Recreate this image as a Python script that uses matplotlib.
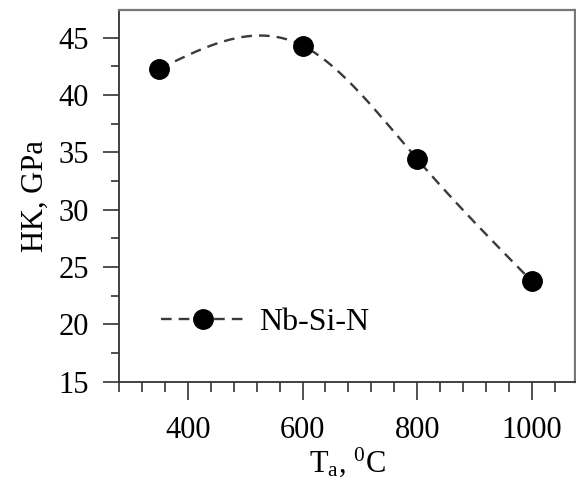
import numpy as np
import matplotlib
matplotlib.use("Agg")
import matplotlib.pyplot as plt

plt.rcParams['font.family'] = ['Liberation Serif', 'DejaVu Serif']
plt.rcParams['mathtext.fontset'] = 'custom'
plt.rcParams['mathtext.rm'] = 'Liberation Serif'
plt.rcParams['mathtext.it'] = 'Liberation Serif:italic'

temps = [350, 600, 800, 1000]
hardness = [42.25, 44.3, 34.4, 23.75]
series_label = "Nb-Si-N"
xticks = [400, 600, 800, 1000]
yticks = [15, 20, 25, 30, 35, 40, 45]


def natural_spline(x, y, xs):
    x = np.asarray(x, float); y = np.asarray(y, float)
    n = len(x)
    h = np.diff(x)
    A = np.zeros((n, n)); b = np.zeros(n)
    A[0, 0] = 1; A[-1, -1] = 1
    for i in range(1, n - 1):
        A[i, i - 1] = h[i - 1]
        A[i, i] = 2 * (h[i - 1] + h[i])
        A[i, i + 1] = h[i]
        b[i] = 6 * ((y[i + 1] - y[i]) / h[i] - (y[i] - y[i - 1]) / h[i - 1])
    M = np.linalg.solve(A, b)
    out = np.empty_like(xs)
    for k, xv in enumerate(xs):
        i = min(max(np.searchsorted(x, xv) - 1, 0), n - 2)
        t1 = x[i + 1] - xv; t0 = xv - x[i]
        out[k] = (M[i] * t1**3 + M[i + 1] * t0**3) / (6 * h[i]) \
            + (y[i] / h[i] - M[i] * h[i] / 6) * t1 \
            + (y[i + 1] / h[i] - M[i + 1] * h[i] / 6) * t0
    return out


fig = plt.figure(figsize=(5.76, 4.88), dpi=100)
ax = fig.add_axes([0.2066, 0.2178, 0.7915, 0.7617])

xs = np.linspace(min(temps), max(temps), 300)
ys = natural_spline(temps, hardness, xs)
line_color = '#3a3a3a'
ax.plot(xs, ys, color=line_color, lw=1.7, dashes=(4.5, 3))
ax.plot(temps, hardness, 'o', color='black', ms=14)
# legend proxy
ax.plot([], [], color=line_color, lw=1.7, dashes=(4.5, 3), marker='o',
        markerfacecolor='black', markeredgecolor='black', ms=14, label=series_label)

ax.set_xlim(280, 1075)
ax.set_ylim(15, 47.4)
ax.set_xticks(xticks)
ax.set_yticks(yticks)
ax.set_xticks(np.arange(280, 1075, 40), minor=True)
ax.set_yticks(np.arange(15, 47.5, 2.5), minor=True)
ax.tick_params(which='major', direction='out', width=1.2, labelsize=22, color='#333333')
ax.tick_params(which='minor', direction='out', width=1.2, color='#333333')
ax.tick_params(axis='y', which='major', length=11.5, pad=10)
ax.tick_params(axis='y', which='minor', length=6)
ax.tick_params(axis='x', which='major', length=13, pad=12)
ax.tick_params(axis='x', which='minor', length=7)

for s in ['left', 'bottom']:
    ax.spines[s].set_linewidth(1.3)
    ax.spines[s].set_color('#333333')
for s in ['top', 'right']:
    ax.spines[s].set_linewidth(1.6)
    ax.spines[s].set_color('#777777')

ax.set_ylabel('HK, GPa', fontsize=22, labelpad=6)
ax.set_xlabel(r'T$_\mathrm{a}$, $^\mathrm{0}$C', fontsize=22, labelpad=0)

ax.legend(loc='center left', bbox_to_anchor=(0.093, 0.159), frameon=False,
          fontsize=23, handlelength=2.6, handletextpad=0.45, borderpad=0,
          borderaxespad=0, numpoints=1)

fig.savefig('out.png', dpi=100)
